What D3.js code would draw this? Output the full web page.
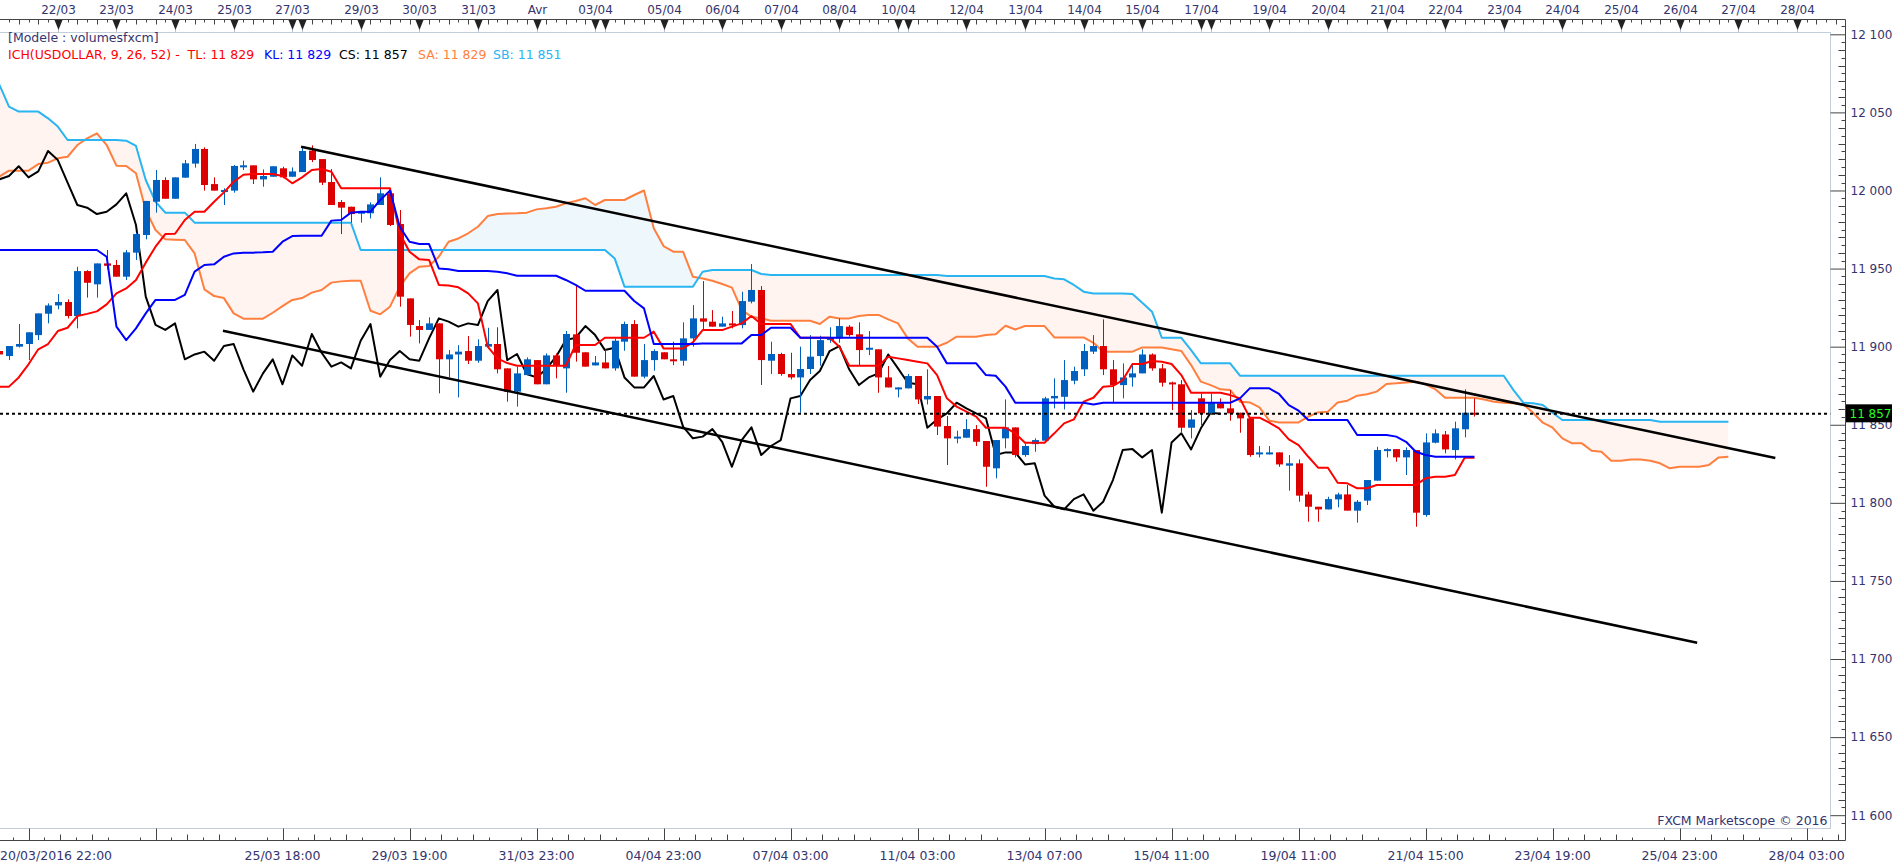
<!DOCTYPE html>
<html>
<head>
<meta charset="utf-8">
<script src="https://cdn.jsdelivr.net/npm/d3@7"></script>
<style>
  body { margin: 0; background: #fff; }
  svg { display: block; font-family: "DejaVu Sans", Verdana, sans-serif; }
  .lbl { font-size: 12px; fill: #34346e; }
  .blbl { font-size: 12.5px; fill: #34346e; }
</style>
</head>
<body>
<div id="chart"></div>
<script>
// 1: DATA - USDOLLAR 4h bars, bar 0 = 20/03/2016 22:00
const open = [
  11897.2, 11894.0, 11900.0, 11901.7, 11907.4, 11921.1, 11926.4, 11928.6, 11919.6, 11948.4,
  11939.9, 11953.3, 11952.3, 11944.8, 11960.2, 11971.5, 11992.8, 12006.7, 11994.7, 12008.2,
  12017.2, 12026.6, 12004.1, 11999.4, 11999.9, 12015.5, 12016.1, 12007.1, 12008.8, 12014.2,
  12008.8, 12011.8, 12025.5, 12020.1, 12005.4, 11992.6, 11989.6, 11985.8, 11985.4, 11990.7,
  11998.2, 11978.5, 11930.9, 11913.2, 11910.7, 11914.9, 11891.9, 11895.0, 11897.2, 11891.0,
  11900.0, 11901.7, 11886.1, 11871.2, 11881.8, 11891.4, 11875.9, 11894.4, 11886.1, 11907.9,
  11896.4, 11888.0, 11889.9, 11886.1, 11903.2, 11914.5, 11880.8, 11891.4, 11896.4, 11891.9,
  11891.0, 11905.3, 11918.1, 11916.0, 11912.8, 11914.9, 11913.8, 11928.8, 11936.3, 11891.0,
  11895.3, 11882.5, 11880.3, 11885.7, 11894.0, 11904.2, 11905.3, 11912.8, 11907.9, 11898.5,
  11898.3, 11880.3, 11873.3, 11873.3, 11881.2, 11866.2, 11868.4, 11849.2, 11841.3, 11841.7,
  11847.2, 11839.6, 11822.1, 11841.3, 11848.3, 11830.6, 11837.6, 11839.8, 11866.9, 11867.9,
  11878.2, 11885.5, 11896.8, 11900.4, 11885.5, 11875.4, 11880.3, 11882.9, 11895.0, 11886.1,
  11877.1, 11875.9, 11848.1, 11866.9, 11857.3, 11863.7, 11860.5, 11857.7, 11854.1, 11831.0,
  11831.0, 11832.3, 11823.8, 11825.3, 11805.4, 11797.5, 11795.8, 11802.2, 11805.4, 11795.0,
  11801.4, 11814.2, 11833.4, 11834.4, 11829.1, 11833.8, 11792.2, 11838.5, 11843.8, 11833.8,
  11847.1, 11857.7
];
const high = [
  11898.0, 11900.4, 11914.5, 11909.2, 11921.3, 11927.7, 11933.7, 11930.3, 11951.2, 11949.0,
  11953.3, 11961.9, 11955.5, 11961.9, 11973.0, 11993.3, 12013.1, 12008.4, 12008.4, 12019.5,
  12029.8, 12027.6, 12008.4, 12001.4, 12016.3, 12019.1, 12016.1, 12013.5, 12015.5, 12015.2,
  12014.8, 12027.6, 12028.9, 12020.1, 12013.7, 11993.9, 11989.6, 11986.4, 11992.4, 12008.4,
  11999.9, 11987.5, 11930.9, 11917.1, 11918.8, 11914.9, 11897.9, 11901.0, 11906.8, 11904.7,
  11912.1, 11912.4, 11886.1, 11887.2, 11893.1, 11891.4, 11895.7, 11895.7, 11910.0, 11939.5,
  11896.4, 11894.0, 11898.3, 11905.3, 11916.0, 11917.0, 11901.7, 11898.3, 11896.4, 11903.2,
  11915.6, 11926.6, 11942.0, 11923.4, 11919.2, 11922.8, 11935.2, 11952.9, 11938.8, 11903.2,
  11896.1, 11896.1, 11900.0, 11907.4, 11907.0, 11912.4, 11918.1, 11913.8, 11915.6, 11910.0,
  11898.3, 11887.6, 11873.9, 11882.5, 11881.2, 11885.5, 11868.4, 11855.6, 11846.2, 11853.6,
  11849.8, 11839.6, 11840.2, 11866.2, 11848.3, 11838.1, 11841.3, 11867.9, 11879.7, 11891.4,
  11887.2, 11901.7, 11907.4, 11917.5, 11891.4, 11889.3, 11889.3, 11898.3, 11895.7, 11888.9,
  11877.6, 11878.6, 11859.4, 11870.1, 11870.1, 11866.9, 11872.2, 11857.7, 11854.1, 11836.4,
  11836.4, 11832.3, 11830.6, 11827.8, 11807.1, 11797.5, 11803.9, 11806.5, 11811.4, 11801.8,
  11814.6, 11835.9, 11834.9, 11834.4, 11835.5, 11833.8, 11844.5, 11847.0, 11846.0, 11852.0,
  11872.7, 11866.9
];
const low = [
  11894.0, 11891.4, 11899.5, 11891.4, 11904.2, 11914.9, 11923.9, 11918.1, 11911.7, 11931.4,
  11931.4, 11949.5, 11944.8, 11942.7, 11955.5, 11968.7, 11985.8, 11994.7, 11994.7, 12008.2,
  12014.6, 11999.9, 11999.9, 11990.7, 11998.6, 12013.1, 12004.1, 12002.4, 12008.8, 12007.8,
  12008.8, 12011.8, 12018.2, 12003.5, 11990.7, 11972.1, 11979.4, 11979.4, 11982.1, 11990.7,
  11977.2, 11925.6, 11906.4, 11902.1, 11910.7, 11870.1, 11880.3, 11867.5, 11888.9, 11889.7,
  11900.0, 11882.9, 11864.8, 11861.6, 11881.8, 11875.9, 11875.9, 11879.7, 11870.5, 11890.4,
  11887.2, 11888.0, 11886.1, 11884.6, 11897.4, 11880.8, 11879.7, 11884.6, 11891.9, 11888.2,
  11887.8, 11900.0, 11910.6, 11912.8, 11912.8, 11911.7, 11911.7, 11927.7, 11875.4, 11882.5,
  11881.4, 11879.0, 11857.7, 11882.5, 11887.8, 11902.5, 11902.5, 11906.4, 11888.2, 11894.6,
  11870.5, 11873.9, 11867.5, 11873.3, 11863.3, 11863.0, 11843.4, 11824.2, 11838.1, 11841.7,
  11836.4, 11810.3, 11815.7, 11834.9, 11829.1, 11829.5, 11832.7, 11839.8, 11860.5, 11859.8,
  11875.9, 11881.2, 11895.3, 11881.8, 11863.7, 11866.9, 11874.4, 11882.9, 11884.6, 11874.4,
  11859.4, 11844.5, 11841.3, 11849.8, 11856.2, 11860.5, 11852.6, 11844.9, 11829.5, 11829.1,
  11831.0, 11823.1, 11807.8, 11800.7, 11787.9, 11787.9, 11795.8, 11797.1, 11795.0, 11787.3,
  11798.6, 11814.2, 11829.1, 11826.3, 11817.8, 11784.7, 11791.1, 11838.1, 11831.7, 11827.8,
  11841.9, 11855.2
];
const close = [
  11895.0, 11900.4, 11901.7, 11909.2, 11921.3, 11926.4, 11928.6, 11919.6, 11948.4, 11940.9,
  11953.3, 11951.8, 11944.8, 11960.4, 11972.1, 11993.3, 12006.7, 11994.7, 12008.4, 12017.4,
  12026.6, 12003.5, 11999.9, 12000.3, 12015.7, 12016.1, 12007.1, 12009.3, 12015.5, 12008.4,
  12012.2, 12025.3, 12019.5, 12005.0, 11990.7, 11989.0, 11984.9, 11986.4, 11991.1, 11998.2,
  11977.9, 11932.0, 11913.9, 11910.7, 11914.9, 11891.9, 11895.0, 11896.8, 11891.0, 11900.4,
  11901.7, 11885.5, 11871.2, 11882.9, 11891.9, 11875.9, 11894.4, 11887.8, 11908.1, 11896.1,
  11887.2, 11889.9, 11886.1, 11903.8, 11914.5, 11880.8, 11891.4, 11897.2, 11891.9, 11891.0,
  11905.3, 11918.1, 11916.0, 11912.8, 11914.9, 11913.8, 11929.2, 11936.3, 11891.4, 11895.3,
  11882.5, 11880.3, 11885.7, 11893.6, 11904.2, 11905.7, 11913.2, 11907.4, 11897.8, 11899.3,
  11880.3, 11873.9, 11873.9, 11881.2, 11866.2, 11868.4, 11848.8, 11841.3, 11842.4, 11847.2,
  11839.1, 11823.1, 11840.2, 11848.3, 11830.6, 11836.4, 11840.2, 11866.9, 11868.4, 11878.6,
  11884.4, 11897.2, 11900.4, 11885.5, 11875.4, 11880.3, 11882.9, 11895.0, 11886.1, 11876.9,
  11875.9, 11848.1, 11853.4, 11857.3, 11864.1, 11860.5, 11857.3, 11854.1, 11830.6, 11832.3,
  11832.3, 11824.6, 11825.3, 11804.6, 11797.5, 11795.8, 11802.4, 11805.4, 11795.0, 11800.7,
  11814.6, 11833.8, 11834.4, 11829.1, 11833.8, 11793.7, 11838.7, 11844.5, 11834.2, 11847.7,
  11857.7, 11857.0
];

// Ichimoku lines (TL red, KL blue, SA orange, SB light blue)
const tenkan = [
  11874.4, 11874.4, 11880.3, 11888.7, 11898.3, 11901.7, 11910.0, 11912.1, 11919.6, 11921.0,
  11922.6, 11927.1, 11934.1, 11937.3, 11942.7, 11953.8, 11964.0, 11972.1, 11972.3, 11981.1,
  11986.4, 11986.4, 11992.8, 11998.8, 12005.6, 12010.1, 12010.5, 12010.5, 12010.5, 12009.3,
  12004.6, 12008.4, 12013.1, 12013.7, 12012.0, 12001.4, 12001.4, 12001.4, 12001.4, 12001.4,
  12001.4, 11972.5, 11960.8, 11955.9, 11955.5, 11939.5, 11939.1, 11938.0, 11934.1, 11927.7,
  11900.0, 11892.5, 11889.5, 11887.8, 11887.8, 11887.8, 11887.8, 11887.8, 11887.8, 11901.1,
  11901.1, 11901.1, 11905.7, 11905.7, 11905.7, 11905.7, 11905.7, 11909.6, 11898.9, 11898.9,
  11898.9, 11902.7, 11910.6, 11910.6, 11910.6, 11912.8, 11914.9, 11919.6, 11914.5, 11914.5,
  11914.5, 11914.5, 11905.7, 11905.7, 11905.7, 11905.7, 11900.0, 11887.8, 11887.8, 11887.8,
  11887.8, 11893.6, 11892.5, 11891.4, 11890.4, 11889.3, 11881.8, 11866.9, 11861.6, 11858.4,
  11855.2, 11848.1, 11848.1, 11848.1, 11844.5, 11838.5, 11838.5, 11838.5, 11844.5, 11850.9,
  11853.4, 11864.8, 11867.3, 11874.4, 11874.8, 11878.6, 11888.9, 11888.9, 11890.8, 11890.4,
  11888.9, 11881.8, 11870.5, 11870.5, 11870.5, 11870.5, 11869.0, 11866.9, 11854.5, 11854.5,
  11851.3, 11847.7, 11840.6, 11837.0, 11829.5, 11822.5, 11822.5, 11812.9, 11812.5, 11809.3,
  11809.3, 11811.4, 11811.4, 11811.4, 11811.4, 11811.4, 11815.7, 11816.7, 11816.7, 11817.8,
  11828.9, 11828.9
];
const kijun = [
  11961.9, 11961.9, 11961.9, 11961.9, 11961.9, 11961.9, 11961.9, 11961.9, 11961.9, 11961.9,
  11961.9, 11957.6, 11912.8, 11904.2, 11911.7, 11921.3, 11929.9, 11929.9, 11929.9, 11933.1,
  11948.0, 11952.3, 11952.7, 11957.6, 11959.7, 11960.2, 11960.2, 11960.4, 11960.8, 11967.2,
  11970.8, 11971.0, 11971.0, 11971.0, 11980.7, 11981.1, 11985.8, 11986.4, 11986.4, 11993.9,
  11999.9, 11976.8, 11967.2, 11965.7, 11965.7, 11950.1, 11949.5, 11948.4, 11948.4, 11948.4,
  11948.4, 11948.0, 11947.0, 11945.4, 11945.4, 11945.4, 11945.4, 11945.4, 11942.7, 11939.5,
  11935.8, 11935.8, 11935.8, 11935.8, 11935.8, 11929.2, 11924.5, 11901.7, 11901.7, 11901.7,
  11901.7, 11901.7, 11902.1, 11902.1, 11902.1, 11902.1, 11902.1, 11907.4, 11907.4, 11912.1,
  11912.1, 11912.1, 11905.7, 11905.7, 11905.7, 11905.7, 11905.7, 11905.7, 11905.7, 11905.7,
  11905.7, 11905.7, 11905.7, 11905.7, 11905.7, 11905.7, 11900.0, 11889.3, 11889.3, 11889.3,
  11889.3, 11881.8, 11881.4, 11874.4, 11864.1, 11864.1, 11864.1, 11864.1, 11864.1, 11864.1,
  11864.1, 11864.1, 11863.0, 11864.1, 11864.1, 11864.1, 11864.1, 11864.1, 11864.1, 11864.1,
  11864.1, 11864.1, 11864.1, 11864.1, 11864.1, 11864.1, 11864.1, 11866.9, 11873.3, 11873.3,
  11873.3, 11869.7, 11862.6, 11859.0, 11853.0, 11853.0, 11853.0, 11853.0, 11853.0, 11843.4,
  11843.4, 11843.4, 11843.4, 11842.4, 11839.1, 11832.7, 11830.6, 11829.5, 11829.5, 11829.5,
  11829.5, 11829.5
];
const senkouA = [
  12008.8, 12012.7, 12012.7, 12012.7, 12016.9, 12017.8, 12020.6, 12021.6, 12029.1, 12033.4,
  12036.6, 12029.1, 12015.9, 12015.7, 12011.0, 11987.5, 11974.7, 11968.7, 11968.5, 11968.3,
  11959.7, 11936.7, 11932.4, 11931.1, 11921.3, 11917.9, 11917.9, 11917.9, 11921.7, 11926.0,
  11929.9, 11931.1, 11934.6, 11936.3, 11941.0, 11941.8, 11942.2, 11942.2, 11923.0, 11920.7,
  11925.6, 11938.4, 11946.9, 11951.2, 11951.6, 11957.6, 11967.2, 11969.3, 11972.6, 11976.8,
  11983.6, 11984.9, 11985.2, 11985.4, 11985.8, 11987.9, 11988.6, 11989.6, 11991.8, 11993.3,
  11995.0, 11990.7, 11993.9, 11993.9, 11993.9, 11997.1, 12000.0, 11975.8, 11964.4, 11960.8,
  11960.8, 11944.8, 11943.7, 11942.2, 11940.1, 11937.8, 11923.5, 11919.2, 11918.1, 11916.6,
  11916.6, 11916.6, 11916.6, 11916.6, 11914.5, 11919.2, 11918.1, 11918.1, 11919.6, 11920.3,
  11920.3, 11917.5, 11914.9, 11905.3, 11900.0, 11900.0, 11900.0, 11902.5, 11906.4, 11906.4,
  11906.4, 11907.4, 11907.9, 11913.4, 11911.0, 11913.2, 11913.2, 11913.2, 11905.9, 11905.9,
  11905.9, 11905.9, 11902.5, 11896.8, 11896.8, 11896.8, 11896.8, 11899.5, 11899.5, 11899.5,
  11898.3, 11897.2, 11888.2, 11877.6, 11875.4, 11872.7, 11872.2, 11864.8, 11864.3, 11861.1,
  11852.6, 11851.5, 11851.5, 11851.5, 11855.2, 11857.9, 11858.4, 11864.3, 11865.4, 11868.6,
  11869.5, 11871.2, 11876.1, 11876.5, 11877.1, 11877.6, 11875.9, 11872.7, 11867.3, 11867.3,
  11867.3, 11867.3, 11866.2, 11864.7, 11864.1, 11863.7, 11863.0, 11857.7, 11851.3, 11848.1,
  11841.3, 11838.1, 11838.1, 11833.4, 11832.7, 11827.0, 11827.0, 11827.8, 11827.8, 11827.0,
  11825.3, 11822.1, 11823.1, 11823.1, 11823.1, 11824.2, 11829.1, 11829.5
];
const senkouB = [
  12068.0, 12053.7, 12050.5, 12050.5, 12050.5, 12046.2, 12040.9, 12032.3, 12032.3, 12032.3,
  12032.3, 12032.3, 12032.3, 12031.9, 12028.5, 12006.7, 11992.8, 11985.8, 11985.8, 11985.8,
  11979.4, 11979.4, 11979.4, 11979.4, 11979.4, 11979.4, 11979.4, 11979.4, 11979.4, 11979.4,
  11979.4, 11979.4, 11979.4, 11979.4, 11979.4, 11979.4, 11979.4, 11961.9, 11961.9, 11961.9,
  11961.9, 11961.9, 11961.9, 11961.9, 11961.9, 11961.9, 11961.9, 11961.9, 11961.9, 11961.9,
  11961.9, 11961.9, 11961.9, 11961.9, 11961.9, 11961.9, 11961.9, 11961.9, 11961.9, 11961.9,
  11961.9, 11961.9, 11961.9, 11956.5, 11938.4, 11938.4, 11938.4, 11938.4, 11938.4, 11938.4,
  11938.4, 11938.4, 11948.0, 11949.1, 11949.1, 11949.1, 11949.1, 11949.1, 11946.5, 11945.9,
  11945.9, 11945.9, 11945.9, 11945.9, 11945.9, 11945.9, 11945.9, 11945.9, 11945.9, 11945.9,
  11945.9, 11945.9, 11945.9, 11945.9, 11945.9, 11945.9, 11945.9, 11945.2, 11945.2, 11945.2,
  11945.2, 11945.2, 11945.2, 11945.2, 11945.2, 11945.2, 11945.2, 11945.2, 11943.7, 11943.1,
  11939.5, 11935.2, 11934.1, 11934.1, 11934.1, 11934.1, 11933.7, 11928.1, 11922.4, 11905.7,
  11905.7, 11905.7, 11897.8, 11889.3, 11889.3, 11889.3, 11889.3, 11881.4, 11881.4, 11881.4,
  11881.4, 11881.4, 11881.4, 11881.4, 11881.4, 11881.4, 11881.4, 11881.4, 11881.4, 11881.4,
  11881.4, 11881.4, 11881.4, 11881.4, 11881.4, 11881.4, 11881.4, 11881.4, 11881.4, 11881.4,
  11881.4, 11881.4, 11881.4, 11881.4, 11881.4, 11872.2, 11864.1, 11863.7, 11862.6, 11857.7,
  11853.0, 11853.0, 11853.0, 11853.0, 11853.0, 11853.0, 11853.0, 11853.0, 11853.0, 11853.0,
  11851.9, 11851.9, 11851.9, 11851.9, 11851.9, 11851.9, 11851.9, 11851.9
];
const chikouShift = 26;

// hand-drawn trend channel: [bar, price]
const channelUpper = [[30.9, 12028.0], [181.8, 11828.7]];
const channelLower = [[22.9, 11910.2], [173.8, 11710.4]];

// top axis: day markers (bar index) and labels ("" = marker without text)
const dayBars = [6, 12, 18, 24, 30, 31, 37, 43, 49, 55, 61, 62, 68, 74, 80, 86, 92, 93,
  99, 105, 111, 117, 123, 124, 130, 136, 142, 148, 154, 160, 166, 172, 178, 184];
const dayLabels = ["22/03", "23/03", "24/03", "25/03", "27/03", "", "29/03", "30/03", "31/03",
  "Avr", "03/04", "", "05/04", "06/04", "07/04", "08/04", "10/04", "", "12/04", "13/04",
  "14/04", "15/04", "17/04", "", "19/04", "20/04", "21/04", "22/04", "23/04", "24/04",
  "25/04", "26/04", "27/04", "28/04"];

// bottom axis labels
const firstTimeLabel = "20/03/2016 22:00";
const timeBars = [29, 42, 55, 68, 81, 94, 107, 120, 133, 146, 159, 172, 185];
const timeLabels = ["25/03 18:00", "29/03 19:00", "31/03 23:00", "04/04 23:00", "07/04 03:00",
  "11/04 03:00", "13/04 07:00", "15/04 11:00", "19/04 11:00", "21/04 15:00", "23/04 19:00",
  "25/04 23:00", "28/04 03:00"];

const yMajor = [11600, 11650, 11700, 11750, 11800, 11850, 11900, 11950, 12000, 12050, 12100];
const lastPrice = 11857;

// 2: GLOBAL LAYOUT
const width = 1903, height = 868;
const plot = { left: 0, top: 32.5, right: 1830.5, bottom: 828.5 };
const axisX = 1845.5, topAxisY = 19.5, bottomAxisY = 840.5;

const colors = {
  up: "#0060c0", down: "#dd0000",
  tenkan: "#ff0000", kijun: "#0000ff", chikou: "#000000",
  spanA: "#ff7f3f", spanB: "#29b4f2",
  cloudDown: "#fff4f0", cloudUp: "#eef7fc",
  text: "#34346e", frame: "#c3cedc", axis: "#444444"
};

const svg = d3.select("#chart")
  .append("svg")
  .attr("width", width)
  .attr("height", height);

// 3: SCALES
const xScale = d3.scaleLinear()
  .domain([0, 185])
  .range([-0.8, 1806.6]);

const yScale = d3.scaleLinear()
  .domain([11600, 12100])
  .range([815.2, 34.3]);

const fmt = d3.formatLocale({ decimal: ".", thousands: " ", grouping: [3], currency: ["", ""] }).format(",");

// plot frame
svg.append("rect")
  .attr("x", plot.left - 1)
  .attr("y", plot.top)
  .attr("width", plot.right - plot.left + 1)
  .attr("height", plot.bottom - plot.top)
  .attr("fill", "#fff")
  .attr("stroke", colors.frame)
  .attr("stroke-width", 1);

svg.append("clipPath").attr("id", "plotClip")
  .append("rect")
  .attr("x", plot.left).attr("y", plot.top)
  .attr("width", plot.right - plot.left).attr("height", plot.bottom - plot.top);

const g = svg.append("g").attr("clip-path", "url(#plotClip)");

// 4: CLOUD (fill between span A and span B, colour by which one is on top)
const cloud = senkouA.map((a, i) => ({ i: i, a: a, b: senkouB[i] }));

const aboveA = d3.area().x(d => xScale(d.i)).y0(0).y1(d => yScale(d.a));
const belowA = d3.area().x(d => xScale(d.i)).y0(height).y1(d => yScale(d.a));
const band = d3.area().x(d => xScale(d.i)).y0(d => yScale(d.a)).y1(d => yScale(d.b));

svg.append("clipPath").attr("id", "clipAbove").append("path").attr("d", aboveA(cloud));
svg.append("clipPath").attr("id", "clipBelow").append("path").attr("d", belowA(cloud));

g.append("path")
  .attr("d", band(cloud))
  .attr("clip-path", "url(#clipAbove)")
  .attr("fill", colors.cloudDown);

g.append("path")
  .attr("d", band(cloud))
  .attr("clip-path", "url(#clipBelow)")
  .attr("fill", colors.cloudUp);

const line = d3.line()
  .x(d => xScale(d[0]))
  .y(d => yScale(d[1]));

function drawSeries(values, color, offset, w) {
  g.append("path")
    .attr("d", line(values.map((v, i) => [i + offset, v])))
    .attr("fill", "none")
    .attr("stroke", color)
    .attr("stroke-width", w)
    .attr("stroke-linejoin", "round");
}

drawSeries(senkouA, colors.spanA, 0, 2);
drawSeries(senkouB, colors.spanB, 0, 2);
// chikou = closes drawn 26 bars back
drawSeries(close.slice(chikouShift), colors.chikou, 0, 2);

// 5: CANDLES
const bars = close.map((c, i) => ({ i: i, o: open[i], h: high[i], l: low[i], c: c }));

const candle = g.selectAll(".candle")
  .data(bars)
  .enter()
  .append("g")
  .attr("class", "candle");

candle.append("line")
  .attr("x1", d => Math.round(xScale(d.i)) + 0.5)
  .attr("x2", d => Math.round(xScale(d.i)) + 0.5)
  .attr("y1", d => yScale(d.h))
  .attr("y2", d => yScale(d.l))
  .attr("stroke", d => d.c >= d.o ? colors.up : colors.down)
  .attr("stroke-width", 1);

candle.append("rect")
  .attr("x", d => Math.round(xScale(d.i)) - 3)
  .attr("width", 7)
  .attr("y", d => yScale(Math.max(d.o, d.c)))
  .attr("height", d => Math.max(2, Math.abs(yScale(d.o) - yScale(d.c))))
  .attr("fill", d => d.c >= d.o ? colors.up : colors.down);

drawSeries(tenkan, colors.tenkan, 0, 2);
drawSeries(kijun, colors.kijun, 0, 2);

// 6: TREND CHANNEL + LAST PRICE
[channelUpper, channelLower].forEach(seg => {
  g.append("path")
    .attr("d", line(seg))
    .attr("stroke", "#000")
    .attr("stroke-width", 2.5)
    .attr("fill", "none");
});

g.append("line")
  .attr("x1", plot.left)
  .attr("x2", plot.right)
  .attr("y1", yScale(lastPrice))
  .attr("y2", yScale(lastPrice))
  .attr("stroke", "#000")
  .attr("stroke-width", 2)
  .attr("stroke-dasharray", "3,3");

// 7: AXES
// right price axis
svg.append("line")
  .attr("x1", axisX).attr("x2", axisX)
  .attr("y1", topAxisY).attr("y2", bottomAxisY)
  .attr("stroke", colors.axis);

const yMinor = d3.range(11595, 12106, 5).filter(v => v % 50 !== 0);
svg.selectAll(".yminor")
  .data(yMinor)
  .enter()
  .append("line")
  .attr("x1", d => axisX - (d % 10 === 0 ? 7 : 4))
  .attr("x2", axisX)
  .attr("y1", d => Math.round(yScale(d)) + 0.5)
  .attr("y2", d => Math.round(yScale(d)) + 0.5)
  .attr("stroke", colors.axis);

const yAxis = svg.append("g")
  .attr("transform", `translate(${plot.right},0)`)
  .call(d3.axisRight(yScale)
    .tickValues(yMajor)
    .tickSize(axisX - plot.right)
    .tickPadding(5)
    .tickFormat(fmt));
yAxis.select(".domain").remove();
yAxis.selectAll(".tick line").attr("stroke", colors.axis);
yAxis.selectAll(".tick text")
  .attr("class", "lbl")
  .style("font-family", "\"DejaVu Sans\", Verdana, sans-serif")
  .style("font-size", "12px")
  .attr("fill", colors.text);

// top time axis: one tick per bar, day markers
svg.append("line")
  .attr("x1", 0).attr("x2", axisX)
  .attr("y1", topAxisY).attr("y2", topAxisY)
  .attr("stroke", colors.axis);

svg.selectAll(".ttick")
  .data(d3.range(0, 189))
  .enter()
  .append("line")
  .attr("x1", d => Math.round(xScale(d)) + 0.5)
  .attr("x2", d => Math.round(xScale(d)) + 0.5)
  .attr("y1", topAxisY)
  .attr("y2", d => topAxisY + (d % 2 === 0 ? 5 : 3))
  .attr("stroke", colors.axis);

const marker = svg.selectAll(".day")
  .data(dayBars.map((b, k) => ({ b: b, label: dayLabels[k] })))
  .enter()
  .append("g")
  .attr("transform", d => `translate(${Math.round(xScale(d.b)) + 0.5},0)`);

marker.append("line")
  .attr("y1", 29).attr("y2", plot.top)
  .attr("stroke", "#b8c4d4");

marker.append("path")
  .attr("d", `M-4,${topAxisY + 0.5} L4,${topAxisY + 0.5} L0,30 Z`)
  .attr("fill", "#222");

marker.append("text")
  .attr("class", "lbl")
  .attr("y", 13.5)
  .attr("text-anchor", "middle")
  .text(d => d.label);

// bottom time axis
svg.append("line")
  .attr("x1", 0).attr("x2", axisX)
  .attr("y1", bottomAxisY).attr("y2", bottomAxisY)
  .attr("stroke", colors.axis);

const majorBars = d3.range(3, 190, 13);
svg.selectAll(".bmajor")
  .data(majorBars)
  .enter()
  .append("line")
  .attr("x1", d => Math.round(xScale(d)) + 0.5)
  .attr("x2", d => Math.round(xScale(d)) + 0.5)
  .attr("y1", plot.bottom)
  .attr("y2", bottomAxisY)
  .attr("stroke", colors.axis);

const minorBars = d3.range(0, 24 * 8)
  .map(k => ({ b: 3 - 13 / 8 + k * 13 / 8, k: k }))
  .filter(d => (d.k + 1) % 8 !== 0 && xScale(d.b) >= 0 && xScale(d.b) < axisX);
svg.selectAll(".bminor")
  .data(minorBars)
  .enter()
  .append("line")
  .attr("x1", d => Math.round(xScale(d.b)) + 0.5)
  .attr("x2", d => Math.round(xScale(d.b)) + 0.5)
  .attr("y1", d => bottomAxisY - (d.k % 2 === 0 ? 3 : 6))
  .attr("y2", bottomAxisY)
  .attr("stroke", colors.axis);

svg.append("text")
  .attr("class", "blbl")
  .attr("x", 0)
  .attr("y", 860)
  .text(firstTimeLabel);

svg.selectAll(".blabel")
  .data(timeBars)
  .enter()
  .append("text")
  .attr("class", "blbl")
  .attr("x", d => xScale(d))
  .attr("y", 860)
  .attr("text-anchor", "middle")
  .text((d, k) => timeLabels[k]);

// price tag for the last close
svg.append("rect")
  .attr("x", axisX + 0.5)
  .attr("y", yScale(lastPrice) - 9.5)
  .attr("width", 46)
  .attr("height", 18)
  .attr("fill", "#000");

svg.append("text")
  .attr("x", axisX + 4)
  .attr("y", yScale(lastPrice) + 4.5)
  .style("font-size", "12px")
  .attr("fill", "#22ff22")
  .text(fmt(lastPrice));

// 8: HEADER + COPYRIGHT
svg.append("text")
  .attr("class", "blbl")
  .attr("x", 8)
  .attr("y", 42)
  .text("[Modele : volumesfxcm]");

const legendParts = [
  { x: 8, text: "ICH(USDOLLAR, 9, 26, 52) -  TL: 11 829", color: colors.tenkan },
  { x: 264, text: "KL: 11 829", color: colors.kijun },
  { x: 339, text: "CS: 11 857", color: "#000" },
  { x: 418, text: "SA: 11 829", color: colors.spanA },
  { x: 493, text: "SB: 11 851", color: colors.spanB }
];
svg.selectAll(".legend")
  .data(legendParts)
  .enter()
  .append("text")
  .attr("x", d => d.x)
  .attr("y", 59)
  .style("font-size", "12.5px")
  .style("white-space", "pre")
  .attr("xml:space", "preserve")
  .attr("fill", d => d.color)
  .text(d => d.text);

svg.append("text")
  .attr("class", "blbl")
  .attr("x", plot.right - 3)
  .attr("y", 825)
  .attr("text-anchor", "end")
  .text("FXCM Marketscope © 2016");
</script>
</body>
</html>
